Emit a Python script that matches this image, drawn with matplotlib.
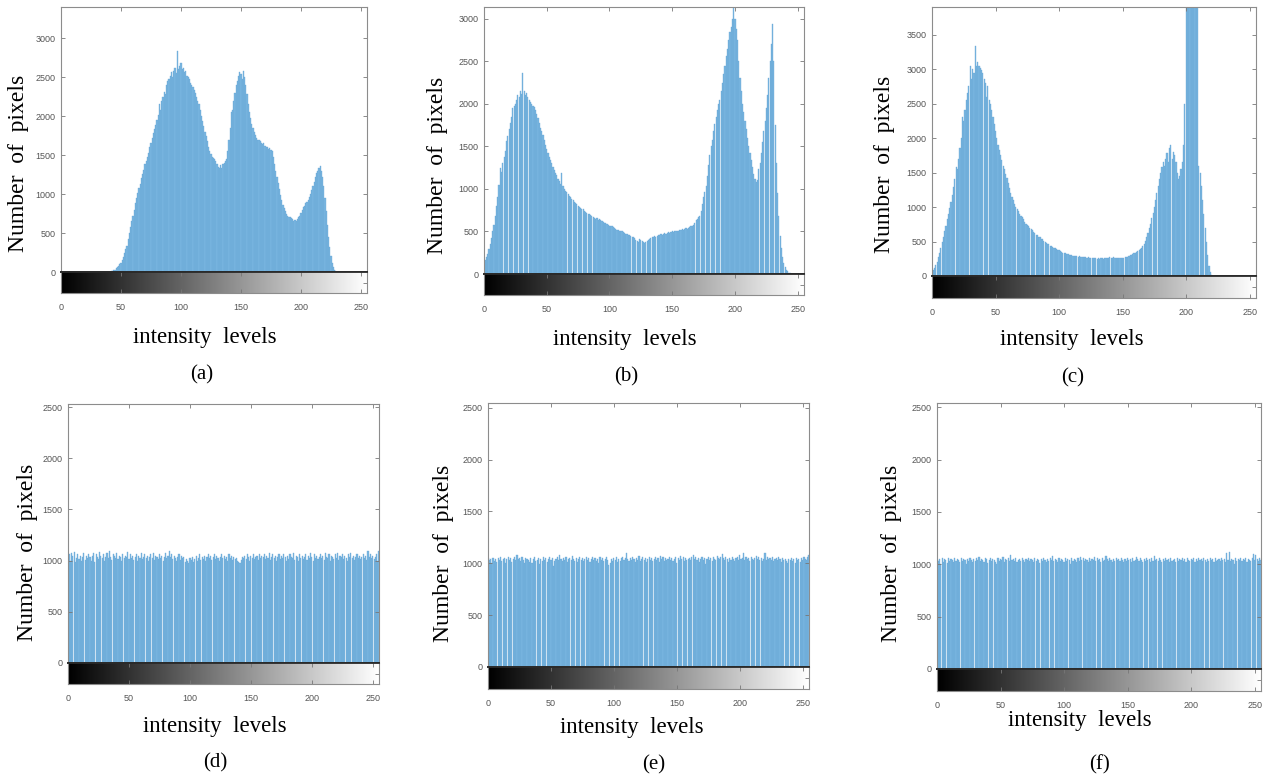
import numpy as np
import matplotlib
matplotlib.use("Agg")
import matplotlib.pyplot as plt

# ---------------- data ----------------
levels = list(range(256))
xticks = [0, 50, 100, 150, 200, 250]
panel_letters = ["(a)", "(b)", "(c)", "(d)", "(e)", "(f)"]

counts_a = [
    0, 0, 0, 0, 0, 0, 0, 0, 0, 0, 0, 0, 0, 0, 0, 0, 0, 0, 0, 0,
    0, 0, 0, 0, 0, 0, 0, 0, 0, 0, 0, 0, 0, 0, 0, 0, 0, 0, 0, 0,
    3, 6, 10, 15, 22, 30, 45, 60, 80, 100,
    120, 150, 190, 240, 290, 340, 420, 500, 580, 650,
    720, 800, 880, 950, 1020, 1080, 1130, 1200, 1260, 1310,
    1380, 1420, 1480, 1530, 1600, 1650, 1720, 1780, 1830, 1880,
    1950, 2020, 2150, 2080, 2200, 2250, 2310, 2280, 2400, 2450,
    2470, 2520, 2560, 2500, 2580, 2620, 2550, 2830, 2600, 2640,
    2680, 2600, 2620, 2560, 2580, 2520, 2500, 2470, 2430, 2400,
    2380, 2330, 2300, 2250, 2200, 2150, 2080, 2000, 1940, 1870,
    1800, 1740, 1680, 1600, 1550, 1520, 1480, 1460, 1450, 1420,
    1380, 1350, 1340, 1370, 1330, 1380, 1400, 1420, 1450, 1550,
    1700, 1850, 2050, 2080, 2200, 2300, 2400, 2450, 2520, 2560,
    2540, 2480, 2580, 2500, 2400, 2280, 2150, 2050, 1980, 1900,
    1850, 1800, 1760, 1720, 1700, 1690, 1680, 1660, 1640, 1650,
    1620, 1600, 1610, 1580, 1590, 1560, 1550, 1470, 1380, 1300,
    1220, 1140, 1060, 990, 920, 860, 820, 780, 750, 720,
    710, 700, 690, 680, 660, 670, 650, 680, 700, 720,
    760, 800, 830, 850, 880, 900, 920, 960, 1000, 1050,
    1100, 1160, 1220, 1270, 1300, 1330, 1360, 1300, 1220, 1100,
    950, 780, 600, 450, 320, 200, 120, 60, 30, 10,
    0, 0, 0, 0, 0, 0, 0, 0, 0, 0, 0, 0, 0, 0, 0, 0, 0, 0, 0, 0,
    0, 0, 0, 0, 0, 0,
]

counts_b = [
    150, 170, 200, 240, 290, 350, 420, 500, 580, 680,
    800, 900, 1050, 1250, 1200, 1300, 1380, 1450, 1560, 1620,
    1700, 1780, 1850, 1950, 1980, 2000, 2050, 2100, 2080, 2150,
    2120, 2360, 2150, 2100, 2130, 2080, 2050, 2020, 2000, 1980,
    1960, 1930, 1880, 1830, 1780, 1720, 1680, 1640, 1580, 1520,
    1470, 1420, 1380, 1340, 1300, 1260, 1220, 1190, 1160, 1120,
    1090, 1060, 1190, 1030, 1000, 980, 960, 940, 920, 900,
    880, 870, 850, 840, 820, 800, 790, 780, 770, 760,
    740, 730, 720, 710, 700, 690, 680, 670, 660, 650,
    660, 640, 650, 630, 620, 610, 600, 600, 590, 580,
    570, 560, 560, 550, 540, 530, 520, 520, 510, 500,
    500, 490, 480, 470, 470, 460, 460, 450, 440, 430,
    420, 400, 390, 380, 410, 400, 390, 380, 370, 380,
    390, 400, 410, 420, 430, 440, 450, 440, 450, 460,
    460, 470, 460, 470, 480, 470, 480, 490, 480, 490,
    500, 490, 500, 510, 500, 510, 520, 520, 530, 520,
    530, 540, 530, 540, 550, 560, 570, 580, 600, 630,
    650, 670, 680, 740, 820, 900, 960, 1030, 1150, 1280,
    1400, 1500, 1580, 1680, 1760, 1850, 1930, 2000, 2050, 2150,
    2250, 2350, 2450, 2560, 2650, 2750, 2850, 2910, 3000, 3150,
    3000, 2880, 2750, 2500, 2300, 2150, 2000, 1900, 1800, 1700,
    1600, 1500, 1420, 1340, 1260, 1180, 1120, 1080, 1100, 1230,
    1300, 1420, 1550, 1680, 1800, 1950, 2100, 2300, 2500, 2700,
    2940, 2500, 1750, 1300, 950, 680, 450, 300, 200, 130,
    80, 50, 30, 15, 8, 3, 0, 0, 0, 0,
    0, 0, 0, 0, 0, 0,
]

counts_c = [
    40, 80, 120, 160, 210, 270, 340, 410, 490, 570,
    650, 730, 820, 900, 990, 1080, 1180, 1290, 1400, 1580,
    1550, 1700, 1850, 2000, 2300, 2250, 2400, 2550, 2650, 2750,
    3050, 2850, 3000, 2950, 3330, 3050, 3100, 3050, 3020, 2980,
    2950, 2850, 2800, 2600, 2750, 2550, 2500, 2400, 2300, 2200,
    2100, 2000, 1900, 1820, 1750, 1680, 1600, 1550, 1480, 1420,
    1350, 1280, 1200, 1150, 1100, 1050, 1000, 970, 940, 900,
    870, 850, 820, 790, 760, 740, 720, 700, 680, 660,
    640, 620, 600, 590, 570, 560, 540, 530, 510, 500,
    480, 470, 460, 440, 430, 420, 410, 400, 390, 380,
    370, 360, 350, 340, 335, 330, 320, 315, 310, 300,
    300, 295, 290, 285, 290, 280, 285, 280, 275, 280,
    270, 275, 265, 270, 260, 265, 260, 255, 260, 255,
    250, 255, 250, 260, 255, 250, 260, 255, 265, 260,
    270, 265, 260, 270, 265, 260, 255, 260, 265, 260,
    255, 265, 270, 275, 280, 290, 300, 310, 320, 330,
    340, 350, 360, 370, 390, 410, 440, 470, 510, 560,
    620, 690, 760, 840, 920, 1000, 1100, 1200, 1300, 1400,
    1500, 1580, 1650, 1600, 1700, 1780, 1650, 1850, 1900, 1700,
    1800, 1750, 1650, 1500, 1400, 1450, 1550, 1650, 1900, 2500,
    4200, 4500, 5500, 6200, 6800, 7000, 6800, 6000, 5000, 4100,
    1600, 1500, 1300, 1100, 900, 700, 500, 300, 150, 60,
    20, 0, 0, 0, 0, 0, 0, 0, 0, 0,
    0, 0, 0, 0, 0, 0, 0, 0, 0, 0, 0, 0, 0, 0, 0, 0, 0, 0, 0, 0,
    0, 0, 0, 0, 0, 0,
]

counts_d = [
    1040, 1060, 1000, 1070, 1050, 1080, 990, 1030, 1060, 1020, 1050, 1000, 1040, 1070, 1010, 1050,
    1030, 1060, 1040, 1000, 1050, 1070, 990, 1060, 1040, 1020, 1080, 1050, 1030, 1060, 1000, 1040,
    1070, 1030, 1090, 1040, 1010, 1060, 1050, 1030, 1070, 1020, 1050, 1040, 1000, 1060, 1030, 1050,
    1040, 1080, 1020, 1060, 1030, 1050, 1010, 1040, 1060, 1000, 1050, 1030, 1070, 1020, 1040, 1060,
    1030, 1050, 1000, 1040, 1060, 1030, 1070, 1010, 1050, 1040, 1020, 1060, 1030, 1050, 1000, 1040,
    1070, 1030, 1050, 1090, 1040, 1060, 1020, 1050, 1030, 1000, 1040, 1060, 1010, 1050, 1030, 1040,
    990, 1020, 1000, 980, 1030, 1010, 1040, 990, 1020, 1050, 1000, 1030, 1060, 1010, 1040, 1020,
    1050, 1000, 1040, 1060, 1030, 1050, 1010, 1040, 1060, 1020, 1050, 1030, 1000, 1040, 1060, 1030,
    1050, 1020, 1040, 1000, 1060, 1030, 1050, 1010, 1040, 1020, 1030, 1000, 990, 980, 1010, 1040,
    1030, 1050, 1020, 1060, 1040, 1000, 1050, 1030, 1060, 1020, 1040, 1050, 1010, 1060, 1030, 1050,
    1040, 1060, 1020, 1050, 1030, 1070, 1010, 1040, 1060, 1030, 1050, 1000, 1040, 1060, 1020, 1050,
    1030, 1060, 1040, 1000, 1050, 1020, 1060, 1040, 1030, 1070, 1010, 1050, 1040, 1000, 1060, 1030,
    1050, 1020, 1040, 1060, 1010, 1050, 1030, 1070, 1040, 1000, 1060, 1030, 1050, 1020, 1040, 1060,
    1030, 1050, 1010, 1070, 1040, 1030, 1060, 1000, 1050, 1040, 1020, 1060, 1030, 1070, 1010, 1050,
    1040, 1060, 1020, 1050, 1030, 1000, 1060, 1040, 1070, 1030, 1050, 1010, 1040, 1060, 1030, 1050,
    1020, 1040, 1060, 1030, 1050, 1010, 1090, 1040, 1060, 1030, 1050, 1020, 1040, 1060, 1000, 1090,
]

counts_e = [
    1050, 1030, 1040, 1000, 1050, 1020, 1040, 1010, 1050, 1030, 1060, 1020, 1040, 1050, 1000, 1040,
    1060, 1030, 1050, 1010, 1040, 1060, 1030, 1080, 1040, 1050, 1020, 1060, 1030, 1000, 1050, 1040,
    1030, 1010, 1050, 1000, 1040, 1060, 1020, 1030, 1050, 990, 1040, 1020, 1060, 1030, 1050, 1010,
    1040, 1060, 1030, 1050, 970, 1020, 1040, 1060, 1030, 1080, 1040, 1020, 1050, 1030, 1060, 1010,
    1040, 1050, 1030, 1070, 1040, 1020, 1050, 1010, 1040, 1060, 1030, 1050, 1020, 1040, 1060, 1030,
    1050, 1010, 1040, 1060, 1030, 1050, 1020, 1040, 1000, 1060, 1030, 1050, 1020, 1040, 1060, 1030,
    980, 1000, 1040, 1020, 1050, 1030, 1060, 1010, 1040, 1020, 1050, 1060, 1030, 1050, 1100, 1040,
    1020, 1050, 1030, 1060, 1040, 1010, 1050, 1030, 1070, 1020, 1040, 1060, 1030, 1050, 1010, 1040,
    1060, 1030, 1050, 1020, 1040, 1060, 1030, 1050, 1010, 1070, 1040, 1060, 1020, 1050, 1030, 1040,
    1060, 1030, 1050, 1020, 1040, 1060, 1000, 1050, 1030, 1070, 1040, 1060, 1020, 1050, 1030, 1040,
    1050, 1030, 1060, 1080, 1040, 1060, 1030, 1050, 1010, 1040, 1060, 1030, 1050, 990, 1040, 1060,
    1030, 1050, 1020, 1060, 1040, 1030, 1070, 1050, 1040, 1060, 1090, 1050, 1030, 1060, 1040, 1010,
    1050, 1030, 1060, 1040, 1020, 1050, 1060, 1030, 1080, 1040, 1050, 1100, 1030, 1060, 1040, 1050,
    1020, 1060, 1040, 1030, 1050, 1070, 1040, 1060, 1030, 1050, 1020, 1040, 1100, 1030, 1060, 1040,
    1050, 1030, 1060, 1020, 1040, 1050, 1030, 1060, 1040, 1010, 1050, 1030, 1040, 1020, 1000, 1040,
    1030, 1050, 1020, 1040, 1000, 1050, 1030, 1040, 1010, 1050, 1030, 1060, 1040, 1030, 1060, 1080,
]

counts_f = [
    1040, 1030, 1050, 1000, 1060, 1020, 1050, 1040, 1010, 1060, 1030, 1050, 1040, 1020, 1060, 1030,
    1050, 1040, 1020, 1060, 1030, 1050, 1040, 1000, 1050, 1030, 1060, 1040, 1020, 1050, 1030, 1060,
    1040, 1070, 1030, 1050, 1040, 1020, 1060, 1050, 1010, 1040, 1060, 1030, 1050, 1040, 1020, 1000,
    1060, 1030, 1050, 1040, 1070, 1020, 1050, 1040, 1060, 1030, 1090, 1040, 1050, 1030, 1060, 1020,
    1040, 1050, 1030, 1060, 1040, 1020, 1050, 1040, 1060, 1030, 1050, 1040, 1020, 1060, 1030, 1050,
    1040, 1010, 1050, 1030, 1060, 1040, 1020, 1050, 1030, 1060, 1040, 1080, 1030, 1050, 1040, 1020,
    1060, 1030, 1050, 1040, 1020, 1060, 1030, 1050, 1040, 1000, 1060, 1030, 1050, 1040, 1020, 1060,
    1030, 1070, 1040, 1060, 1030, 1050, 1040, 1020, 1060, 1030, 1050, 1040, 1070, 1030, 1060, 1040,
    1050, 1020, 1060, 1030, 1040, 1080, 1050, 1030, 1060, 1040, 1020, 1050, 1030, 1060, 1040, 1050,
    1030, 1060, 1040, 1020, 1050, 1030, 1060, 1040, 1050, 1020, 1060, 1030, 1040, 1070, 1050, 1030,
    1060, 1040, 1020, 1050, 1030, 1060, 1040, 1050, 1020, 1060, 1030, 1080, 1040, 1050, 1030, 1060,
    1040, 1020, 1050, 1030, 1060, 1040, 1050, 1020, 1060, 1030, 1040, 1050, 1020, 1060, 1030, 1050,
    1040, 1060, 1030, 1050, 1020, 1060, 1040, 1030, 1050, 1040, 1060, 1020, 1050, 1030, 1060, 1040,
    1050, 1030, 1060, 1040, 1020, 1050, 1030, 1060, 1040, 1050, 1020, 1060, 1030, 1040, 1050, 1030,
    1060, 1040, 1050, 1020, 1110, 1040, 1120, 1030, 1050, 1040, 1000, 1060, 1030, 1050, 1040, 1060,
    1030, 1050, 1040, 1060, 1020, 1050, 1040, 1030, 1060, 1100, 1040, 1090, 1050, 1030, 1060, 1040,
]

series = [counts_a, counts_b, counts_c, counts_d, counts_e, counts_f]
ylims = [3400, 3140, 3900, 2530, 2545, 2540]

# ---------------- layout (pixels) ----------------
W, H = 1266, 778
# left, top, right, zero-line, colorbar-bottom
boxes = [
    (61, 7, 367, 272, 293),
    (484, 7, 804, 274, 295),
    (932, 7, 1256, 276, 298),
    (68, 404, 379, 663, 684),
    (488, 403, 809, 667, 689),
    (937, 403, 1261, 669, 691),
]
ylabel_pos = [(19, 163), (438, 165), (885, 164), (27, 552), (443, 553), (892, 553)]
# x label: (center x, baseline y)
xlabel_pos = [(205, 343), (625, 345), (1072, 345), (215, 732), (632, 733), (1080, 726)]
letter_pos = [(202, 375), (626, 377), (1073, 378), (215, 763), (654, 765), (1100, 765)]

fig = plt.figure(figsize=(W / 100, H / 100), dpi=100)
fig.patch.set_facecolor("white")

def px_axes(l, t, r, b):
    return fig.add_axes([l / W, 1 - b / H, (r - l) / W, (b - t) / H])

bar_color = "#7ab6e0"
bar_edge = "#66a6d6"
spine_gray = "#8c8c8c"
tick_font = dict(family="Liberation Sans", size=6.5, color="#555555")
serif = "Liberation Serif"

gradient = np.linspace(0, 1, 256).reshape(1, -1)

for i, (counts, ymax, box) in enumerate(zip(series, ylims, boxes)):
    l, t, r, z, cbb = box
    ax = px_axes(l, t, r, z)
    ax.bar(levels, counts, width=0.9, color=bar_color, edgecolor=bar_edge,
           linewidth=0.25)
    ax.set_xlim(0, 255)
    ax.set_ylim(0, ymax)
    ax.set_yticks(list(range(0, ymax, 500)))
    ax.set_xticks(xticks)
    ax.tick_params(direction="in", top=True, right=True, bottom=False,
                   labelbottom=False, length=3, width=0.6, color="#777777",
                   pad=4)
    for lab in ax.get_yticklabels():
        lab.set_fontfamily(tick_font["family"])
        lab.set_fontsize(tick_font["size"])
        lab.set_color(tick_font["color"])
    for s in ["left", "right", "top"]:
        ax.spines[s].set_color(spine_gray)
        ax.spines[s].set_linewidth(0.8)
    ax.spines["bottom"].set_color("#2a2a2a")
    ax.spines["bottom"].set_linewidth(1.3)

    cb = px_axes(l, z, r, cbb)
    cb.imshow(gradient, aspect="auto", cmap="gray", extent=[0, 255, 0, 1],
              interpolation="bilinear")
    cb.set_xlim(0, 255)
    cb.set_ylim(0, 1)
    cb.set_xticks(xticks)
    cb.set_yticks([0.5])
    cb.tick_params(axis="x", direction="in", top=True, bottom=True, length=3,
                   width=0.6, color="#777777", pad=7)
    cb.tick_params(axis="y", direction="in", left=False, right=True,
                   labelleft=False, length=3, width=0.6, color="#777777")
    for lab in cb.get_xticklabels():
        lab.set_fontfamily(tick_font["family"])
        lab.set_fontsize(tick_font["size"])
        lab.set_color(tick_font["color"])
    for s in ["left", "right", "bottom"]:
        cb.spines[s].set_color(spine_gray)
        cb.spines[s].set_linewidth(0.8)
    cb.spines["top"].set_color("#2a2a2a")
    cb.spines["top"].set_linewidth(1.3)

    yx, yy = ylabel_pos[i]
    fig.text(yx / W, 1 - yy / H, "Number  of  pixels", rotation=90,
             ha="center", va="center", family=serif, fontsize=17)
    xx, xy = xlabel_pos[i]
    fig.text(xx / W, 1 - xy / H, "intensity  levels", ha="center",
             va="baseline", family=serif, fontsize=16.5)
    lx, ly = letter_pos[i]
    fig.text(lx / W, 1 - ly / H, panel_letters[i], ha="center", va="center",
             family=serif, fontsize=15)

fig.savefig("out.png", dpi=100)
